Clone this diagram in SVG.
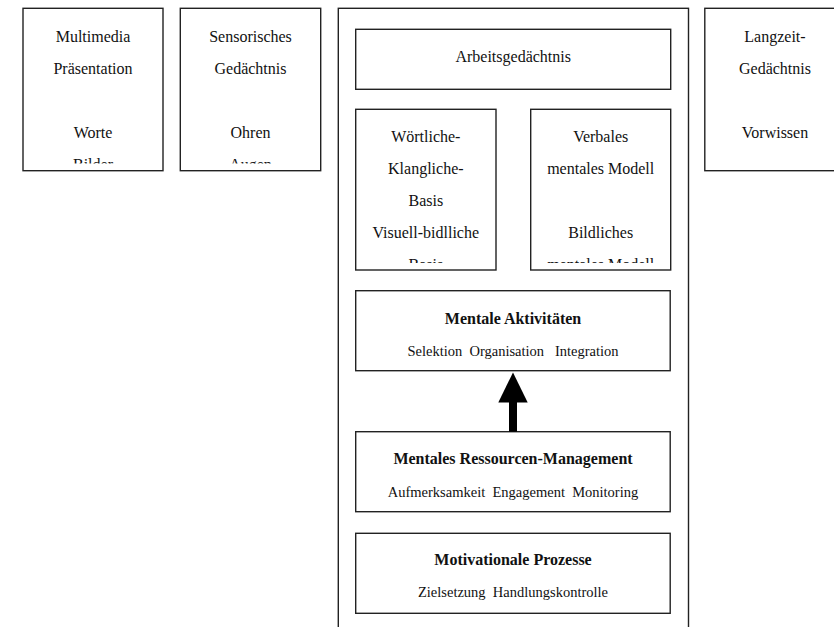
<svg xmlns="http://www.w3.org/2000/svg" width="834" height="627" viewBox="0 0 834 627">
<style>
.box{fill:#fff;stroke:#222;stroke-width:1.4}
.t{font-family:"Liberation Serif","Times New Roman",serif;font-size:16px;fill:#111;text-anchor:middle}
.b{font-weight:bold}
.s{font-size:14.5px}
</style>
<defs>
<clipPath id="c1"><rect x="23" y="8" width="140" height="155.5"/></clipPath>
<clipPath id="c2"><rect x="180" y="8" width="141" height="155.5"/></clipPath>
<clipPath id="c3"><rect x="356" y="109" width="140" height="154"/></clipPath>
<clipPath id="c4"><rect x="531" y="109" width="140" height="154"/></clipPath>
</defs>
<rect width="834" height="627" fill="#fff"/>
<g id="container"><rect class="box" x="338.3" y="8.3" width="350.2" height="640"/></g>
<g id="multimedia">
<rect class="box" x="23" y="8.3" width="140" height="162.4"/>
<g clip-path="url(#c1)">
<text class="t" x="93" y="42">Multimedia</text>
<text class="t" x="93" y="74">Präsentation</text>
<text class="t" x="93" y="138">Worte</text>
<text class="t" x="93" y="170">Bilder</text>
</g>
</g>
<g id="sensorisch">
<rect class="box" x="180.3" y="8.3" width="140.4" height="162.4"/>
<g clip-path="url(#c2)">
<text class="t" x="250.5" y="42">Sensorisches</text>
<text class="t" x="250.5" y="74">Gedächtnis</text>
<text class="t" x="250.5" y="138">Ohren</text>
<text class="t" x="250.5" y="170">Augen</text>
</g>
</g>
<g id="arbeit">
<rect class="box" x="355.7" y="29.3" width="315" height="60"/>
<text class="t" x="513.2" y="61.5">Arbeitsgedächtnis</text>
</g>
<g id="woertlich">
<rect class="box" x="355.7" y="109.3" width="140.3" height="160.7"/>
<g clip-path="url(#c3)">
<text class="t" x="425.8" y="141.7">Wörtliche-</text>
<text class="t" x="425.8" y="173.7">Klangliche-</text>
<text class="t" x="425.8" y="205.7">Basis</text>
<text class="t" x="425.8" y="237.7">Visuell-bidlliche</text>
<text class="t" x="425.8" y="269.7">Basis</text>
</g>
</g>
<g id="verbal">
<rect class="box" x="530.7" y="109.3" width="140" height="160.7"/>
<g clip-path="url(#c4)">
<text class="t" x="600.7" y="141.7">Verbales</text>
<text class="t" x="600.7" y="173.7">mentales Modell</text>
<text class="t" x="600.7" y="237.7">Bildliches</text>
<text class="t" x="600.7" y="269.7">mentales Modell</text>
</g>
</g>
<g id="aktivitaeten">
<rect class="box" x="355.7" y="290.7" width="314.5" height="80"/>
<text class="t b" x="513" y="324.3">Mentale Aktivitäten</text>
<text class="t s" x="513" y="356" xml:space="preserve">Selektion  Organisation   Integration</text>
</g>
<g id="ressourcen">
<rect class="box" x="355.7" y="431.7" width="314.5" height="80"/>
<text class="t b" x="513" y="464.3">Mentales Ressourcen-Management</text>
<text class="t s" x="513" y="496.7" xml:space="preserve">Aufmerksamkeit  Engagement  Monitoring</text>
</g>
<g id="motivation">
<rect class="box" x="355.7" y="533.3" width="314.5" height="80"/>
<text class="t b" x="513" y="565">Motivationale Prozesse</text>
<text class="t s" x="513" y="596.7" xml:space="preserve">Zielsetzung  Handlungskontrolle</text>
</g>
<g id="langzeit">
<rect class="box" x="704.8" y="8.3" width="140" height="162.4"/>
<text class="t" x="775" y="42">Langzeit-</text>
<text class="t" x="775" y="74">Gedächtnis</text>
<text class="t" x="775" y="138">Vorwissen</text>
</g>
<g id="connectors">
<rect x="509" y="401" width="8" height="30.7" fill="#000"/>
<polygon points="513,372.5 527.7,402.5 498.3,402.5" fill="#000"/>
</g>
</svg>
